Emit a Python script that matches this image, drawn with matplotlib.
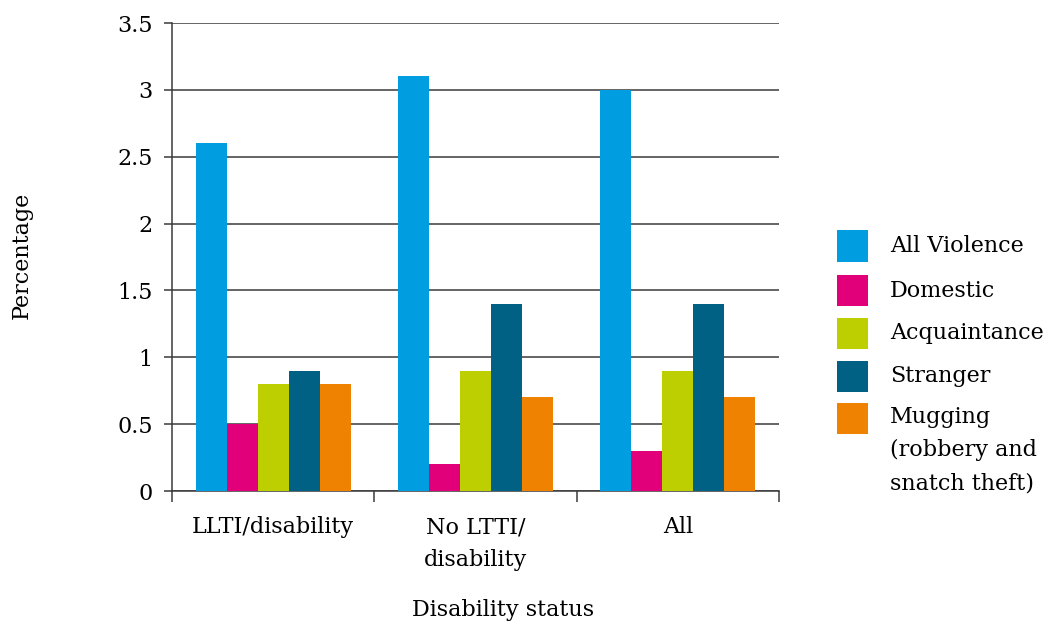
import matplotlib
matplotlib.use("Agg")
import matplotlib.pyplot as plt
import numpy as np
from matplotlib.patches import Rectangle

categories = ["LLTI/disability", "No LTTI/\ndisability", "All"]
series_names = ["All Violence", "Domestic", "Acquaintance", "Stranger",
                "Mugging\n(robbery and\nsnatch theft)"]
all_violence = [2.6, 3.1, 3.0]
domestic = [0.5, 0.2, 0.3]
acquaintance = [0.8, 0.9, 0.9]
stranger = [0.9, 1.4, 1.4]
mugging = [0.8, 0.7, 0.7]
series_values = [all_violence, domestic, acquaintance, stranger, mugging]
colors = ["#009EE0", "#E2007A", "#BDCF00", "#006184", "#EF8200"]
yticks = [0, 0.5, 1, 1.5, 2, 2.5, 3, 3.5]
ytick_labels = ["0", "0.5", "1", "1.5", "2", "2.5", "3", "3.5"]

plt.rcParams['font.family'] = ['DejaVu Serif']
FS = 16

W, H = 1052, 628
fig = plt.figure(figsize=(W / 100, H / 100), dpi=100)
ax = fig.add_axes([172 / W, 1 - 491 / H, 607 / W, 468 / H])

x = np.arange(len(categories))
w = 0.153
n = len(series_values)
for i, (vals, c) in enumerate(zip(series_values, colors)):
    ax.bar(x + (i - (n - 1) / 2) * w, vals, width=w, color=c, zorder=3)

ax.set_xlim(-0.5, len(categories) - 0.5)
ax.set_ylim(0, 3.5)
ax.set_yticks(yticks)
ax.set_yticklabels(ytick_labels, fontsize=FS)
ax.yaxis.grid(True, color="#3a3a3a", linewidth=1.1, zorder=0)
ax.set_axisbelow(True)

ax.set_xticks(x)
ax.set_xticklabels(categories, fontsize=FS, linespacing=1.65)
ax.tick_params(axis='x', length=0, pad=18)
ax.set_xticks(np.arange(len(categories) + 1) - 0.5, minor=True)
ax.tick_params(axis='x', which='minor', length=8, color="#3a3a3a", width=1.1)
ax.tick_params(axis='y', length=6, color="#3a3a3a", width=1.1, pad=8)

for s in ["top", "right"]:
    ax.spines[s].set_visible(False)
for s in ["left", "bottom"]:
    ax.spines[s].set_color("#3a3a3a")
    ax.spines[s].set_linewidth(1.1)

fig.text(22 / W, 1 - 255 / H, "Percentage", fontsize=FS, rotation=90,
         ha="center", va="center")
fig.text(503 / W, 1 - 610 / H, "Disability status", fontsize=FS,
         ha="center", va="center")

# legend (manual)
row_centers = [246, 291, 333, 376, 418]
for name, c, yc in zip(series_names, colors, row_centers):
    fig.add_artist(Rectangle((837 / W, 1 - (yc + 15.5) / H), 31 / W, 31 / H,
                             transform=fig.transFigure, facecolor=c,
                             edgecolor="none"))
    if "\n" in name:
        fig.text(890 / W, 1 - (yc - 12) / H, name, fontsize=FS, ha="left",
                 va="top", linespacing=1.65)
    else:
        fig.text(890 / W, 1 - yc / H, name, fontsize=FS, ha="left",
                 va="center")

fig.savefig("out.png", dpi=100)
